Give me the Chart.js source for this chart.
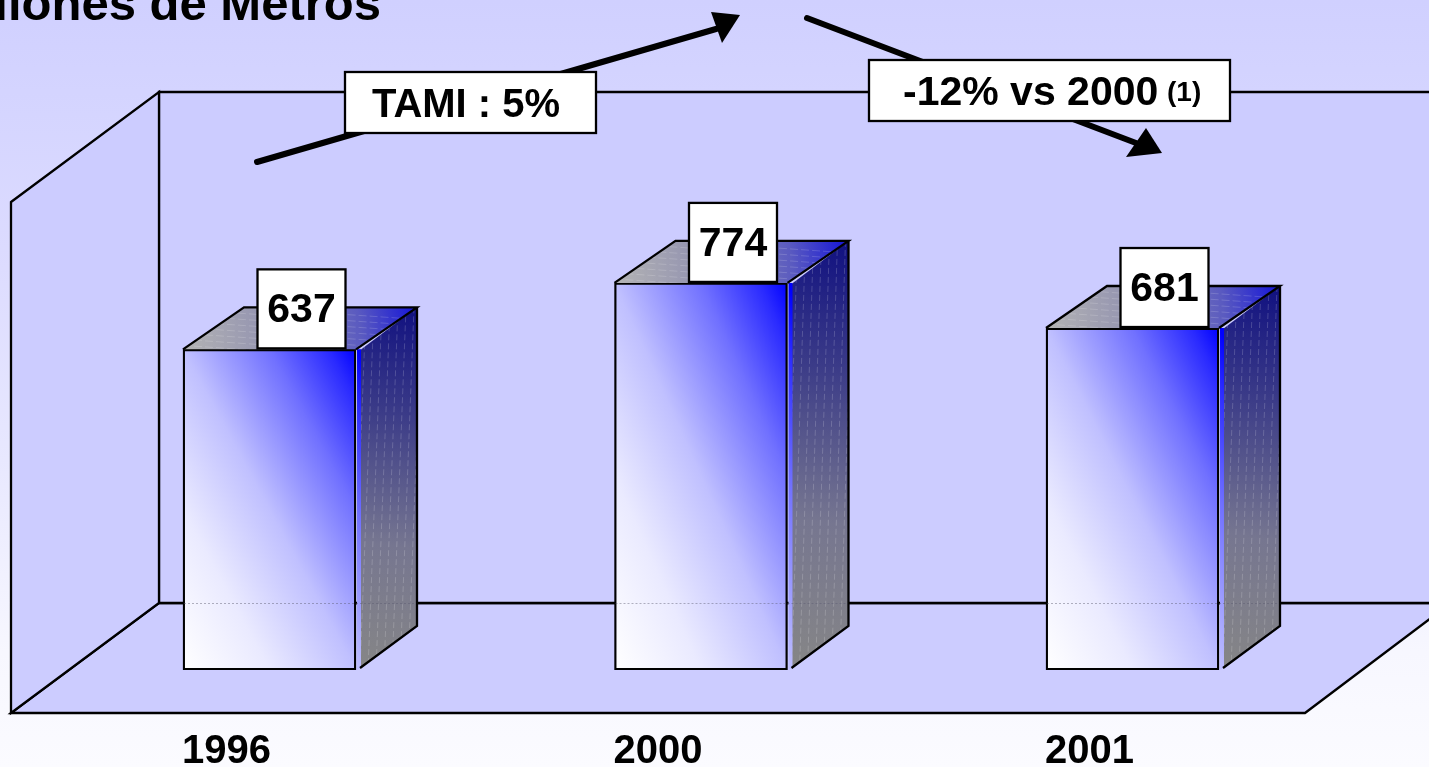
<!DOCTYPE html>
<html>
<head>
<meta charset="utf-8">
<title>Millones de Metros</title>
<script src="https://cdn.jsdelivr.net/npm/chart.js@4"></script>
<style>
html,body{margin:0;padding:0;width:1429px;height:767px;overflow:hidden;background:#fafaff}
#wrap{position:relative;width:1429px;height:767px}
canvas{display:block}
</style>
</head>
<body>
<div id="wrap"><canvas id="c" width="1429" height="767"></canvas></div>
<script>
const categories = ['1996', '2000', '2001'];
const metros = [637, 774, 681];
const titleText = 'Millones de Metros';
const growthLabel = 'TAMI : 5%';
const changeLabel = '-12% vs 2000';
const changeNote = '(1)';

const FONT = '"Liberation Sans", Arial, sans-serif';
const DEPTH_X = 61, DEPTH_Y = 42;
const LINE = 2.3;

function poly(ctx, pts, fill, stroke, lw) {
  ctx.beginPath();
  pts.forEach((p, i) => i ? ctx.lineTo(p[0], p[1]) : ctx.moveTo(p[0], p[1]));
  ctx.closePath();
  if (fill) { ctx.fillStyle = fill; ctx.fill(); }
  if (stroke) { ctx.strokeStyle = stroke; ctx.lineWidth = lw || LINE; ctx.lineJoin = 'miter'; ctx.stroke(); }
}
function box(ctx, x, y, w, h) {
  ctx.fillStyle = '#fff';
  ctx.fillRect(x, y, w, h);
  ctx.strokeStyle = '#000';
  ctx.lineWidth = LINE;
  ctx.strokeRect(x, y, w, h);
  ctx.fillStyle = '#000';
}
function arrow(ctx, from, neck, head) {
  ctx.beginPath();
  ctx.moveTo(from[0], from[1]);
  ctx.lineTo(neck[0], neck[1]);
  ctx.strokeStyle = '#000';
  ctx.lineWidth = 6;
  ctx.lineCap = 'round';
  ctx.stroke();
  ctx.lineCap = 'butt';
  poly(ctx, head, '#000');
}

const scenePlugin = {
  id: 'scene',
  beforeDraw(chart) {
    const ctx = chart.ctx, W = chart.width, H = chart.height;
    const bg = ctx.createLinearGradient(0, 0, 0, H);
    bg.addColorStop(0, '#d0d0ff');
    bg.addColorStop(0.15, '#d5d5ff');
    bg.addColorStop(0.35, '#dddcff');
    bg.addColorStop(0.6, '#e8e8ff');
    bg.addColorStop(0.85, '#f7f7ff');
    bg.addColorStop(1, '#fbfbff');
    ctx.fillStyle = bg;
    ctx.fillRect(0, 0, W, H);

    ctx.save();
    ctx.fillStyle = '#000';
    ctx.font = 'bold 49px ' + FONT;
    ctx.textAlign = 'right';
    ctx.textBaseline = 'alphabetic';
    ctx.fillText(titleText, 381, 20);
    ctx.restore();

    const wall = '#ccccff';
    poly(ctx, [[11, 713], [159, 603], [1480, 603], [1480, 581], [1305, 713]], wall, '#000');
    poly(ctx, [[159, 92], [1480, 92], [1480, 603], [159, 603]], wall, '#000');
    poly(ctx, [[11, 202], [159, 92], [159, 603], [11, 713]], wall, '#000');
  },
  afterDatasetsDraw(chart) {
    const ctx = chart.ctx;
    const meta = chart.getDatasetMeta(0);
    meta.data.forEach((el) => {
      const half = el.width / 2;
      const l = el.x - half, r = el.x + half, t = el.y, b = el.base;

      const sg = ctx.createLinearGradient(r, b, r + DEPTH_X, t - DEPTH_Y);
      sg.addColorStop(0, '#868686');
      sg.addColorStop(0.35, '#767690');
      sg.addColorStop(0.7, '#3c3c88');
      sg.addColorStop(1, '#101080');
      poly(ctx, [[r + 4, t + 1], [r + DEPTH_X, t - DEPTH_Y], [r + DEPTH_X, b - DEPTH_Y - 2], [r + 4, b - 2]], sg);

      poly(ctx, [[r + 1, t], [r + 5, t], [r + 5, b - 2], [r + 1, b]], el.options.backgroundColor);

      const tg = ctx.createLinearGradient(l, t, r + DEPTH_X, t - DEPTH_Y);
      tg.addColorStop(0, '#b4b4b4');
      tg.addColorStop(0.4, '#9090b0');
      tg.addColorStop(0.75, '#5a5ac0');
      tg.addColorStop(1, '#1414d8');
      poly(ctx, [[l, t], [l + DEPTH_X, t - DEPTH_Y], [r + DEPTH_X, t - DEPTH_Y], [r, t]], tg);

      // stippled shading on the side face
      ctx.save();
      ctx.beginPath();
      ctx.moveTo(r + 5, t); ctx.lineTo(r + DEPTH_X, t - DEPTH_Y);
      ctx.lineTo(r + DEPTH_X, b - DEPTH_Y); ctx.lineTo(r + 5, b);
      ctx.closePath(); ctx.clip();
      ctx.strokeStyle = 'rgba(255,255,255,0.18)';
      ctx.lineWidth = 1;
      ctx.setLineDash([6, 3]);
      for (let sx = r + 10; sx < r + DEPTH_X + 20; sx += 8) {
        ctx.beginPath();
        ctx.moveTo(sx, t - DEPTH_Y);
        ctx.lineTo(sx - 14, b);
        ctx.stroke();
      }
      ctx.restore();
      // stippled bands on the top face
      ctx.save();
      ctx.beginPath();
      ctx.moveTo(l, t); ctx.lineTo(l + DEPTH_X, t - DEPTH_Y);
      ctx.lineTo(r + DEPTH_X, t - DEPTH_Y); ctx.lineTo(r, t);
      ctx.closePath(); ctx.clip();
      ctx.strokeStyle = 'rgba(255,255,255,0.16)';
      ctx.lineWidth = 1;
      ctx.setLineDash([8, 3]);
      for (let sy = t - DEPTH_Y + 4; sy < t + 14; sy += 6) {
        ctx.beginPath();
        ctx.moveTo(l, sy - 8);
        ctx.lineTo(r + DEPTH_X, sy + 8);
        ctx.stroke();
      }
      ctx.restore();

      // outlines
      ctx.strokeStyle = '#000';
      ctx.lineWidth = LINE;
      ctx.setLineDash([]);
      ctx.beginPath();
      ctx.moveTo(l, t); ctx.lineTo(l + DEPTH_X, t - DEPTH_Y);
      ctx.lineTo(r + DEPTH_X, t - DEPTH_Y); ctx.lineTo(r, t);
      ctx.moveTo(r + DEPTH_X, t - DEPTH_Y); ctx.lineTo(r + DEPTH_X, b - DEPTH_Y - 2);
      ctx.lineTo(r + 4, b - 2);
      ctx.stroke();

      // floor line faintly showing through the bar
      ctx.strokeStyle = 'rgba(90,90,110,0.45)';
      ctx.lineWidth = 1;
      ctx.setLineDash([2, 2]);
      ctx.beginPath();
      ctx.moveTo(l + 1, 603.5); ctx.lineTo(r + DEPTH_X - 1, 603.5);
      ctx.stroke();
      ctx.setLineDash([]);
    });

    // value labels
    ctx.save();
    ctx.font = 'bold 41px ' + FONT;
    ctx.textAlign = 'center';
    ctx.textBaseline = 'middle';
    meta.data.forEach((el, i) => {
      const bx = el.x - 12, by = el.y - 80, bw = 88, bh = 79;
      box(ctx, bx, by, bw, bh);
      ctx.fillText(String(metros[i]), bx + bw / 2, by + bh / 2 + 2);
    });
    ctx.restore();

    // trend arrows and call-outs
    arrow(ctx, [257, 162], [716, 29], [[711, 12], [740, 15], [722, 43]]);
    arrow(ctx, [807, 18], [1136, 143], [[1146, 128], [1162, 153], [1126, 157]]);

    ctx.save();
    ctx.textBaseline = 'alphabetic';
    box(ctx, 345, 72, 251, 61);
    ctx.font = 'bold 40px ' + FONT;
    ctx.textAlign = 'center';
    ctx.fillText(growthLabel, 466, 117);

    box(ctx, 869, 60, 361, 61);
    ctx.textAlign = 'left';
    ctx.font = 'bold 41px ' + FONT;
    ctx.fillText(changeLabel, 903, 105);
    ctx.font = 'bold 28px ' + FONT;
    ctx.fillText(changeNote, 1167, 101);
    ctx.restore();
  }
};

function frontGradient(ctx) {
  const chart = ctx.chart;
  if (!chart.chartArea || ctx.raw === undefined) return '#8888ff';
  const c2d = chart.ctx;
  const w = 173;
  const x = chart.scales.x.getPixelForValue(ctx.dataIndex);
  const top = chart.scales.y.getPixelForValue(ctx.raw);
  const bottom = chart.chartArea.bottom;
  const h = bottom - top;
  const cy = (top + bottom) / 2;
  const nx = h, ny = -w;
  const k = (w / 2 * nx + (h / 2) * w) / (nx * nx + ny * ny);
  const vx = nx * k, vy = ny * k;
  const g = c2d.createLinearGradient(x - vx, cy - vy, x + vx, cy + vy);
  g.addColorStop(0, '#ffffff');
  g.addColorStop(0.25, '#eaeaff');
  g.addColorStop(0.5, '#c0c0ff');
  g.addColorStop(0.75, '#7070ff');
  g.addColorStop(0.92, '#2a2aff');
  g.addColorStop(1, '#0000ff');
  return g;
}

new Chart(document.getElementById('c'), {
  type: 'bar',
  data: {
    labels: categories,
    datasets: [{
      label: 'Millones de Metros',
      data: metros,
      base: -24,
      barThickness: 173,
      backgroundColor: frontGradient,
      borderColor: '#000',
      borderWidth: LINE,
      borderSkipped: false
    }]
  },
  options: {
    responsive: false,
    animation: false,
    layout: { padding: { left: 53.75, right: 80.75, top: 166, bottom: -67 } },
    plugins: { legend: { display: false }, tooltip: { enabled: false } },
    scales: {
      x: {
        grid: { display: false, drawTicks: false },
        border: { display: false },
        ticks: {
          padding: 66,
          labelOffset: -43,
          minRotation: 0,
          maxRotation: 0,
          color: '#000',
          font: { family: FONT, size: 40, weight: 'bold', lineHeight: 0.8 }
        }
      },
      y: { display: false, min: -24, max: 1015 }
    }
  },
  plugins: [scenePlugin]
});
</script>
</body>
</html>
